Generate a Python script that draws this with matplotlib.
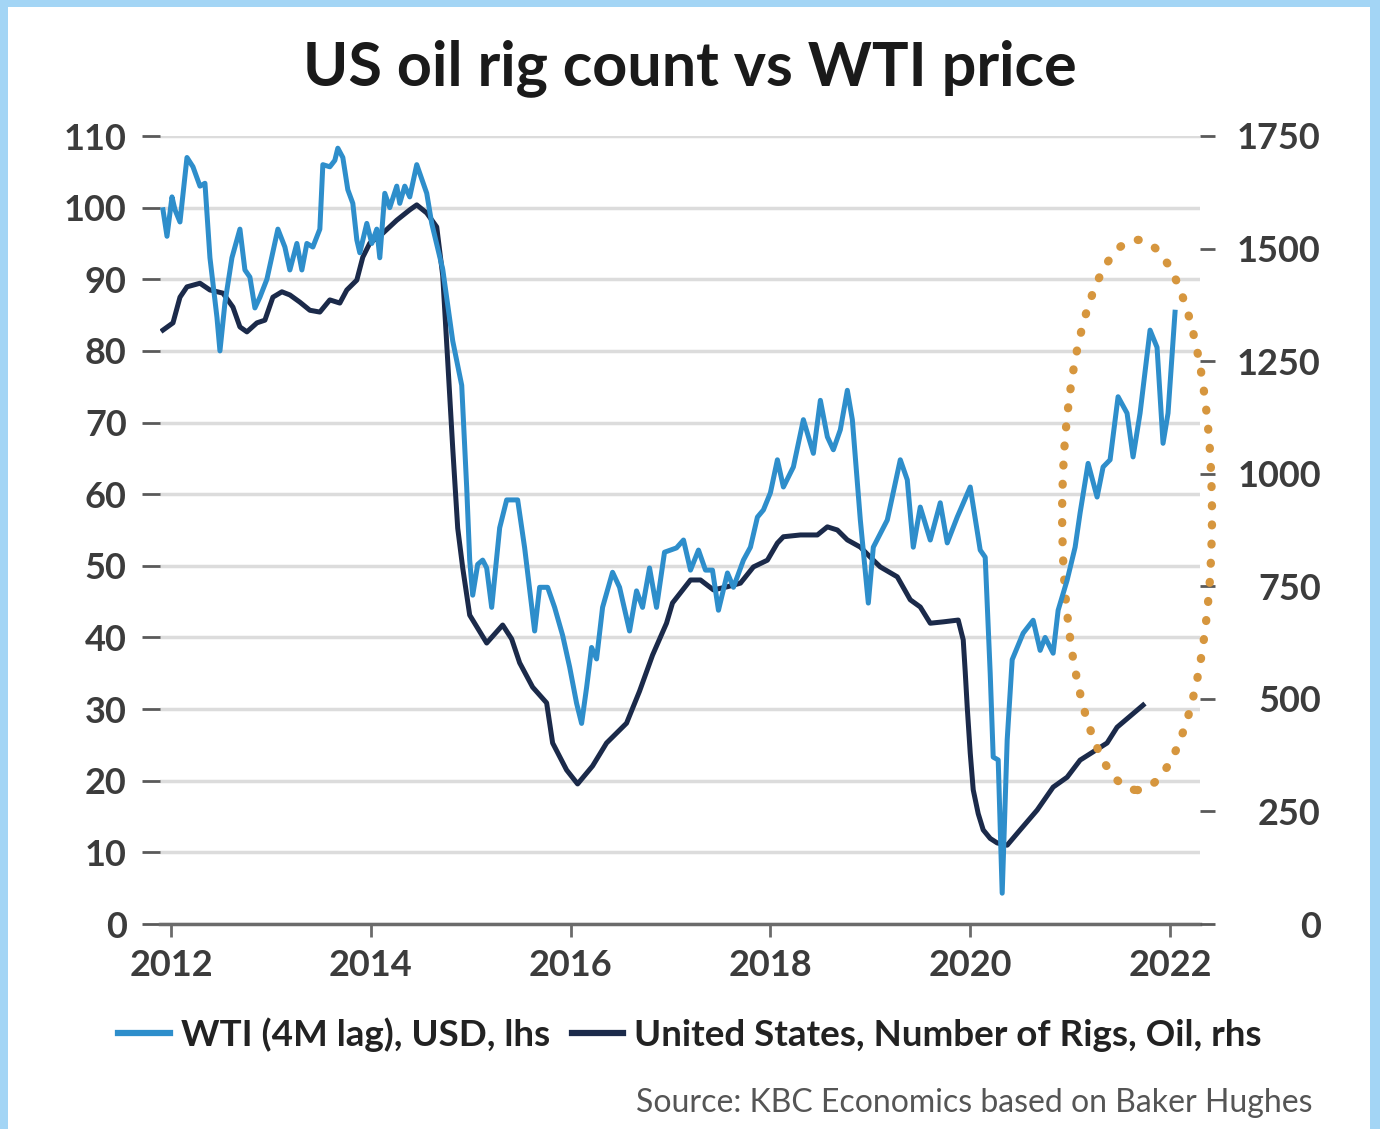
import matplotlib
matplotlib.use("Agg")
import matplotlib.pyplot as plt
from matplotlib.lines import Line2D
from matplotlib.patches import Ellipse, Rectangle

FONT = "Lato"
plt.rcParams["font.family"] = FONT

# WTI (4M lag), USD - left axis
wti_year = [2011.92, 2011.96, 2012.01, 2012.04, 2012.09, 2012.16, 2012.22, 2012.29, 2012.34,
            2012.39, 2012.46, 2012.49, 2012.54, 2012.61, 2012.69, 2012.74, 2012.79, 2012.84,
            2012.89, 2012.96, 2013.07, 2013.14, 2013.19, 2013.26, 2013.31, 2013.36, 2013.42,
            2013.49, 2013.52, 2013.59, 2013.64, 2013.67, 2013.72, 2013.77, 2013.82, 2013.86,
            2013.89, 2013.96, 2014.01, 2014.06, 2014.09, 2014.14, 2014.19, 2014.26, 2014.29,
            2014.34, 2014.39, 2014.46, 2014.51, 2014.56, 2014.61, 2014.72, 2014.82, 2014.91,
            2014.96, 2014.99, 2015.02, 2015.07, 2015.12, 2015.16, 2015.21, 2015.29, 2015.36,
            2015.47, 2015.54, 2015.64, 2015.69, 2015.77, 2015.84, 2015.92, 2015.99, 2016.06,
            2016.11, 2016.16, 2016.21, 2016.26, 2016.32, 2016.42, 2016.49, 2016.59, 2016.66,
            2016.72, 2016.79, 2016.86, 2016.94, 2017.06, 2017.13, 2017.20, 2017.28, 2017.35,
            2017.42, 2017.48, 2017.57, 2017.63, 2017.73, 2017.80, 2017.87, 2017.93, 2018.00,
            2018.07, 2018.13, 2018.23, 2018.33, 2018.37, 2018.43, 2018.50, 2018.57, 2018.63,
            2018.70, 2018.77, 2018.82, 2018.90, 2018.98, 2019.03, 2019.17, 2019.30, 2019.37,
            2019.43, 2019.50, 2019.60, 2019.70, 2019.77, 2019.87, 2020.00, 2020.10, 2020.15,
            2020.20, 2020.23, 2020.28, 2020.32, 2020.37, 2020.42, 2020.53, 2020.63, 2020.70,
            2020.75, 2020.83, 2020.88, 2020.97, 2021.05, 2021.10, 2021.18, 2021.27, 2021.33,
            2021.40, 2021.48, 2021.57, 2021.63, 2021.70, 2021.80, 2021.87, 2021.93, 2021.98,
            2022.05]
wti_usd = [99.7, 96.0, 101.5, 99.7, 98.0, 107.0, 105.7, 103.0, 103.4,
           93.0, 84.7, 80.0, 86.7, 93.0, 97.0, 91.3, 90.3, 86.0,
           87.5, 90.0, 97.0, 94.5, 91.3, 95.0, 91.3, 95.0, 94.5,
           97.0, 106.0, 105.7, 106.6, 108.3, 107.0, 102.5, 100.6, 95.5,
           93.7, 97.8, 95.0, 97.0, 93.0, 102.0, 100.0, 103.0, 100.6,
           103.0, 101.5, 106.0, 104.0, 102.0, 97.8, 91.4, 81.4, 75.2,
           60.9, 50.8, 45.9, 50.2, 50.8, 49.7, 44.2, 55.3, 59.2,
           59.2, 52.5, 40.9, 47.0, 47.0, 44.2, 40.3, 35.9, 30.8,
           28.0, 33.0, 38.6, 37.0, 44.2, 49.1, 47.0, 40.9, 46.5,
           44.2, 49.7, 44.2, 51.9, 52.5, 53.6, 49.4, 52.2, 49.4,
           49.4, 43.8, 49.0, 47.0, 50.8, 52.6, 56.8, 57.8, 60.2,
           64.8, 61.0, 63.8, 70.4, 68.5, 65.7, 73.1, 68.0, 66.2,
           69.0, 74.5, 70.4, 56.4, 44.8, 52.6, 56.4, 64.8, 62.0,
           52.6, 58.2, 53.6, 58.8, 53.2, 56.8, 61.0, 52.2, 51.2,
           35.0, 23.3, 22.9, 4.3, 25.7, 36.9, 40.6, 42.4, 38.2,
           40.0, 37.8, 43.8, 48.0, 52.6, 57.4, 64.3, 59.6, 63.8,
           64.8, 73.6, 71.3, 65.2, 71.3, 82.9, 80.5, 67.1, 71.3,
           85.4]

# United States, number of oil rigs - right axis
rig_year = [2011.92, 2012.02, 2012.09, 2012.16, 2012.29, 2012.39, 2012.52, 2012.62, 2012.69,
            2012.76, 2012.86, 2012.94, 2013.02, 2013.11, 2013.19, 2013.29, 2013.39, 2013.49,
            2013.59, 2013.69, 2013.76, 2013.86, 2013.92, 2013.99, 2014.12, 2014.26, 2014.39,
            2014.46, 2014.56, 2014.66, 2014.72, 2014.77, 2014.82, 2014.87, 2014.92, 2014.99,
            2015.16, 2015.32, 2015.41, 2015.49, 2015.62, 2015.76, 2015.82, 2015.96, 2016.07,
            2016.22, 2016.36, 2016.56, 2016.69, 2016.82, 2016.96, 2017.02, 2017.20, 2017.30,
            2017.43, 2017.57, 2017.70, 2017.83, 2017.97, 2018.07, 2018.13, 2018.30, 2018.47,
            2018.57, 2018.67, 2018.77, 2018.90, 2019.03, 2019.10, 2019.27, 2019.40, 2019.50,
            2019.60, 2019.73, 2019.88, 2019.93, 2019.95, 2019.97, 2020.00, 2020.03, 2020.08,
            2020.13, 2020.20, 2020.27, 2020.37, 2020.50, 2020.67, 2020.83, 2020.97, 2021.10,
            2021.37, 2021.47, 2021.73]
rig_count = [1319, 1335, 1392, 1415, 1423, 1408, 1401, 1370, 1326,
             1315, 1335, 1341, 1392, 1404, 1397, 1381, 1363, 1359,
             1386, 1379, 1408, 1430, 1481, 1512, 1534, 1563, 1586,
             1597, 1579, 1548, 1440, 1250, 1057, 879, 791, 686,
             624, 664, 633, 580, 526, 491, 402, 342, 311,
             351, 402, 446, 517, 597, 668, 713, 764, 764,
             742, 749, 757, 793, 808, 846, 860, 864, 864,
             882, 875, 853, 837, 808, 793, 771, 720, 704,
             668, 671, 675, 631, 560, 482, 380, 298, 245,
             209, 190, 180, 175, 209, 253, 304, 326, 364,
             402, 437, 486]

left_ticks = list(range(0, 111, 10))
right_ticks = list(range(0, 1751, 250))
year_ticks = [2012, 2014, 2016, 2018, 2020, 2022]

title = "US oil rig count vs WTI price"
label_wti = "WTI (4M lag), USD, lhs"
label_rig = "United States, Number of Rigs, Oil, rhs"
source = "Source: KBC Economics based on Baker Hughes"

WTI_COLOR = "#2E8ECB"
RIG_COLOR = "#1B2A4A"
TICK_COLOR = "#3c3c3c"
W, H = 1380, 1129

fig = plt.figure(figsize=(W / 100, H / 100), dpi=100)
fig.patch.set_facecolor("#A3D5F5")
fig.add_artist(Rectangle((8 / W, 0), (1370 - 8) / W, 1 - 7 / H, transform=fig.transFigure,
                         facecolor="white", edgecolor="none", zorder=-10))

ax = fig.add_axes([160 / W, 1 - 924 / H, 1040 / W, 788 / H])
ax.set_xlim(2011.89, 2022.3)
ax.set_ylim(0, 110)
ax.set_yticks(left_ticks)
ax.set_xticks(year_ticks)
ax.set_xticklabels([str(y) for y in year_ticks])
ax.grid(axis="y", color="#dcdcdc", lw=2.5)
ax.set_axisbelow(True)
for side in ("left", "right", "top"):
    ax.spines[side].set_visible(False)
ax.spines["bottom"].set_color("#6b6b6b")
ax.spines["bottom"].set_linewidth(2.5)
ax.tick_params(axis="y", length=13, width=2, color="#5a5a5a", pad=11,
               labelsize=26, labelcolor=TICK_COLOR)
ax.tick_params(axis="x", length=9, width=2, color="#6b6b6b", pad=9,
               labelsize=26, labelcolor=TICK_COLOR)
for lbl in ax.get_xticklabels() + ax.get_yticklabels():
    lbl.set_fontweight("bold")

# right axis: rig count
axr = ax.twinx()
axr.set_ylim(0, 1750)
axr.set_yticks(right_ticks)
for side in axr.spines:
    axr.spines[side].set_visible(False)
axr.tick_params(axis="y", length=11, width=2, color="#5a5a5a", pad=76,
                labelsize=26, labelcolor=TICK_COLOR)
for lbl in axr.get_yticklabels():
    lbl.set_fontweight("bold")
    lbl.set_horizontalalignment("right")
axr.plot(rig_year, rig_count, color=RIG_COLOR, lw=3.6, solid_joinstyle="round")

# WTI drawn on top, same scale as the left axis
axw = ax.twinx()
axw.set_ylim(ax.get_ylim())
axw.axis("off")
axw.plot(wti_year, wti_usd, color=WTI_COLOR, lw=3.6, solid_joinstyle="round")
axw.add_patch(Ellipse((2021.67, 57.1), 1.5, 76.8, fill=False, edgecolor="#D6963E",
                      lw=6, linestyle=(0, (0.1, 2.2)), capstyle="round", clip_on=False))

handles = [Line2D([], [], color=WTI_COLOR, lw=4.5), Line2D([], [], color=RIG_COLOR, lw=4.5)]
leg = fig.legend(handles, [label_wti, label_rig], loc="center", bbox_to_anchor=(0.5, 1 - 1035 / H),
                 ncol=2, frameon=False, handlelength=1.4, handletextpad=0.3, columnspacing=0.6,
                 prop=dict(family=FONT, weight="bold", size=26.5))
for t in leg.get_texts():
    t.set_color("#222222")

fig.text(0.5, 1 - 68 / H, title, ha="center", va="center", size=44, weight="bold", color="#1a1a1a")
fig.text(1312 / W, 1 - 1103 / H, source, ha="right", va="center", size=23, color="#555555")

fig.savefig("out.png", dpi=100)
